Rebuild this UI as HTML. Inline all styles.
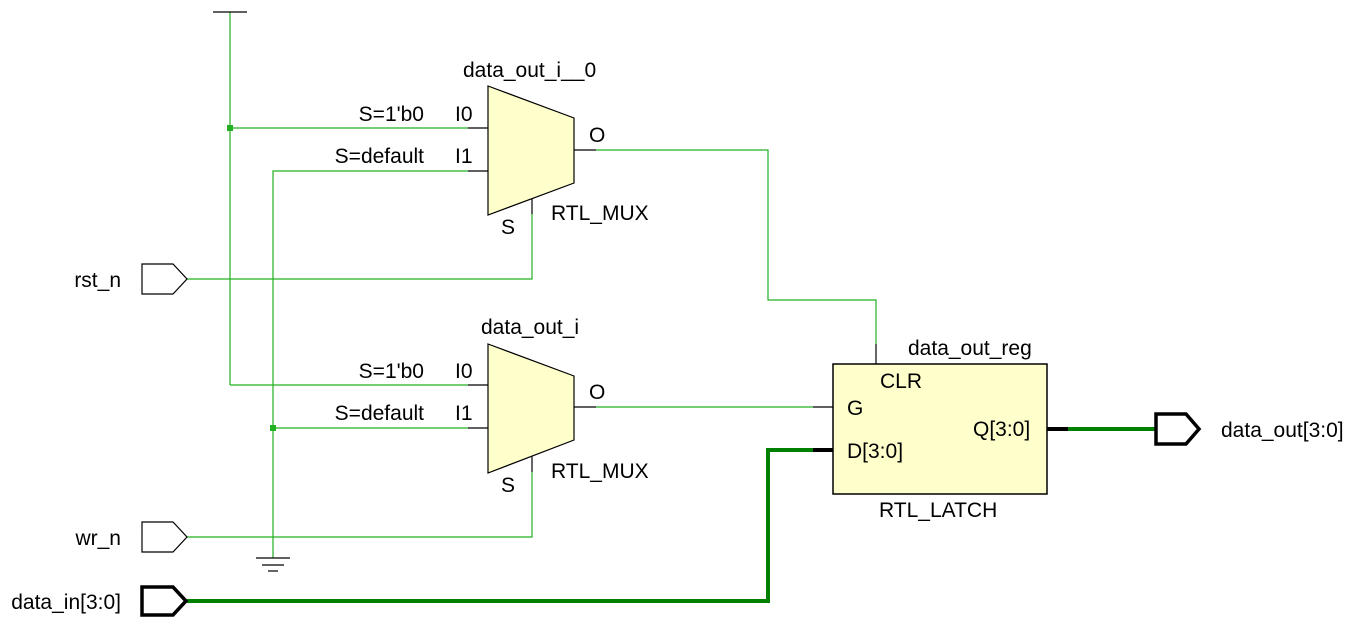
<!DOCTYPE html>
<html><head><meta charset="utf-8"><style>
html,body{margin:0;padding:0;background:#fff;}
svg{display:block;}
text{font-family:"Liberation Sans",Arial,sans-serif;font-size:21px;fill:#000;}
</style></head><body>
<svg width="1355" height="630" viewBox="0 0 1355 630" xmlns="http://www.w3.org/2000/svg">
<g fill="none" stroke="#22b022" stroke-width="1.2">
<line x1="230" y1="12" x2="230" y2="385"/>
<line x1="230" y1="128" x2="468" y2="128"/>
<line x1="230" y1="385" x2="468" y2="385"/>
<polyline points="468,171 273,171 273,558"/>
<line x1="273" y1="428" x2="468" y2="428"/>
<polyline points="187,279 532,279 532,214"/>
<polyline points="187,537 532,537 532,472"/>
<polyline points="596,150 768,150 768,300 876,300 876,344"/>
<line x1="596" y1="407" x2="813" y2="407"/>
</g>
<g stroke="#000" stroke-width="1.2" fill="none">
<line x1="213" y1="12" x2="247" y2="12"/>
<line x1="256" y1="558" x2="290" y2="558"/>
<line x1="262" y1="565" x2="284" y2="565"/>
<line x1="268" y1="571" x2="278" y2="571"/>
<line x1="468" y1="128" x2="488" y2="128"/>
<line x1="468" y1="171" x2="488" y2="171"/>
<line x1="468" y1="385" x2="488" y2="385"/>
<line x1="468" y1="428" x2="488" y2="428"/>
<line x1="574" y1="150" x2="596" y2="150"/>
<line x1="574" y1="407" x2="596" y2="407"/>
<line x1="532" y1="198" x2="532" y2="214"/>
<line x1="532" y1="455" x2="532" y2="472"/>
<line x1="876" y1="344" x2="876" y2="364"/>
<line x1="813" y1="407" x2="833" y2="407"/>
</g>
<rect x="227" y="125" width="6" height="6" fill="#22b022"/>
<rect x="270" y="425" width="6" height="6" fill="#22b022"/>
<polygon points="488,86 574,118 574,183 488,215" fill="#ffffcc" stroke="#000" stroke-width="1.2"/>
<polygon points="488,344 574,376 574,440 488,473" fill="#ffffcc" stroke="#000" stroke-width="1.2"/>
<rect x="833" y="364" width="214" height="130" fill="#ffffcc" stroke="#000" stroke-width="1.5"/>
<g fill="none" stroke="#008000" stroke-width="4">
<polyline points="187,601 768,601 768,450 813,450"/>
<line x1="1068" y1="429" x2="1155" y2="429"/>
</g>
<g stroke="#000" stroke-width="4">
<line x1="813" y1="450" x2="833" y2="450"/>
<line x1="1047" y1="429" x2="1068" y2="429"/>
</g>
<polygon points="142,264 173,264 187,279 173,294 142,294" fill="#fff" stroke="#000" stroke-width="1.2"/>
<polygon points="142,522 173,522 187,537 173,552 142,552" fill="#fff" stroke="#000" stroke-width="1.2"/>
<polygon points="142,587 173,587 186,601 173,615 142,615" fill="#fff" stroke="#000" stroke-width="3.5"/>
<polygon points="1156,414 1186,414 1199,429 1186,444 1156,444" fill="#fff" stroke="#000" stroke-width="3.5"/>
<text x="463" y="77">data_out_i__0</text>
<text x="424" y="121" text-anchor="end">S=1'b0</text>
<text x="455" y="121">I0</text>
<text x="424" y="163" text-anchor="end">S=default</text>
<text x="455" y="163">I1</text>
<text x="589" y="142">O</text>
<text x="551" y="220">RTL_MUX</text>
<text x="501" y="234">S</text>
<text x="481" y="334">data_out_i</text>
<text x="424" y="378" text-anchor="end">S=1'b0</text>
<text x="455" y="378">I0</text>
<text x="424" y="420" text-anchor="end">S=default</text>
<text x="455" y="420">I1</text>
<text x="589" y="399">O</text>
<text x="551" y="478">RTL_MUX</text>
<text x="501" y="492">S</text>
<text x="908" y="355">data_out_reg</text>
<text x="880" y="388">CLR</text>
<text x="847" y="415">G</text>
<text x="847" y="458">D[3:0]</text>
<text x="973" y="436">Q[3:0]</text>
<text x="879" y="517">RTL_LATCH</text>
<text x="1221" y="437">data_out[3:0]</text>
<text x="121" y="287" text-anchor="end">rst_n</text>
<text x="121" y="545" text-anchor="end">wr_n</text>
<text x="121" y="609" text-anchor="end">data_in[3:0]</text>
</svg>
</body></html>
